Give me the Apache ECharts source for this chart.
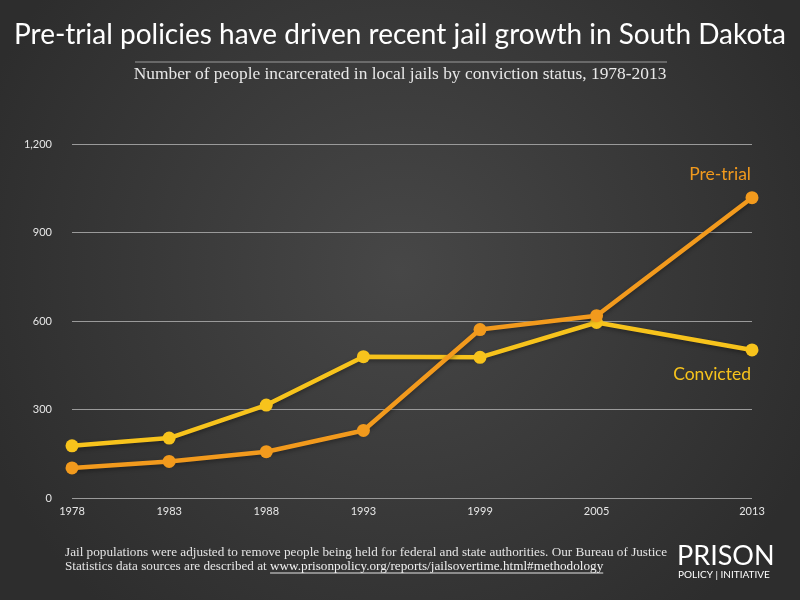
<!doctype html>
<html lang="en">
<head>
    <title>South Dakota jail growth</title>
    <meta charset="utf-8">
    <script type="text/javascript" src="https://cdn.jsdelivr.net/npm/echarts@6/dist/echarts.min.js"></script>
    <style>
        html, body { margin: 0; padding: 0; background: #3a3a3a; }
        #main { width: 800px; height: 600px; }
    </style>
</head>
<body>
<div id="main"></div>
<script type="text/javascript">
    // data
    var years = [1978, 1983, 1988, 1993, 1999, 2005, 2013];
    var pretrial = [102, 124, 157, 229, 571, 618, 1018];
    var convicted = [177, 203, 315, 479, 477, 595, 502];
    var yTicks = [0, 300, 600, 900, 1200];

    var FUTURA = 'Lato, "Open Sans", sans-serif';
    var SERIF = '"Liberation Serif", "DejaVu Serif", serif';
    var ORANGE = '#f29a1d';
    var YELLOW = '#f7c31c';

    var noteFont = '13.2px ' + SERIF;
    var noteLine2 = 'Statistics data sources are described at ';
    var noteUrl = 'www.prisonpolicy.org/reports/jailsovertime.html#methodology';

    // measure the footnote so the url + underline line up
    var ctx = document.createElement('canvas').getContext('2d');
    ctx.font = noteFont;
    var urlX = 65 + ctx.measureText(noteLine2).width;
    var urlW = ctx.measureText(noteUrl).width;

    function pairs(vals) {
        return years.map(function (y, i) { return [y, vals[i]]; });
    }

    // label only on the last point, like the reference
    function withEndLabel(vals, text, color, pos) {
        var d = pairs(vals);
        var last = d.length - 1;
        d[last] = {
            value: d[last],
            label: {
                show: true,
                formatter: text,
                position: pos,
                align: 'right',
                distance: pos === 'top' ? 8 : 9,
                offset: [-1, 0],
                color: color,
                fontFamily: FUTURA,
                fontSize: 17.5
            }
        };
        return d;
    }

    var chartDom = document.getElementById('main');
    var myChart = echarts.init(chartDom);
    var option = {
        backgroundColor: {
            type: 'radial', x: 0.5, y: 0.45, r: 0.75,
            colorStops: [
                {offset: 0, color: '#474747'},
                {offset: 1, color: '#2d2d2d'}
            ]
        },
        animation: false,
        grid: {left: 72, right: 48, top: 144, bottom: 102},
        xAxis: {
            type: 'value',
            min: 1978,
            max: 2013,
            axisLine: {show: false},
            axisTick: {show: false},
            splitLine: {show: false},
            axisLabel: {
                customValues: years,
                color: '#e6e6e6',
                fontFamily: FUTURA,
                fontSize: 11,
                margin: 8,
                formatter: function (v) { return String(v); }
            }
        },
        yAxis: {
            type: 'value',
            min: 0,
            max: 1200,
            interval: 300,
            axisLine: {show: false},
            axisTick: {show: false},
            splitLine: {lineStyle: {color: '#9a9a9a', width: 1}},
            axisLabel: {
                customValues: yTicks,
                color: '#e6e6e6',
                fontFamily: FUTURA,
                fontSize: 11,
                margin: 20,
                padding: [0, 0, 6, 0],
                formatter: function (v) { return v.toLocaleString('en-US'); }
            }
        },
        series: [
            {
                name: 'Convicted',
                type: 'line',
                data: withEndLabel(convicted, 'Convicted', YELLOW, 'bottom'),
                symbol: 'circle',
                symbolSize: 13,
                z: 2,
                itemStyle: {color: YELLOW},
                lineStyle: {
                    color: YELLOW, width: 4.5,
                    shadowColor: 'rgba(0,0,0,0.35)', shadowBlur: 4, shadowOffsetY: 2
                }
            },
            {
                name: 'Pre-trial',
                type: 'line',
                data: withEndLabel(pretrial, 'Pre-trial', ORANGE, 'top'),
                symbol: 'circle',
                symbolSize: 13,
                z: 3,
                itemStyle: {color: ORANGE},
                lineStyle: {
                    color: ORANGE, width: 4.5,
                    shadowColor: 'rgba(0,0,0,0.35)', shadowBlur: 4, shadowOffsetY: 2
                }
            }
        ],
        graphic: [
            {
                type: 'text', left: 'center', top: 21,
                style: {
                    text: 'Pre-trial policies have driven recent jail growth in South Dakota',
                    fill: '#ffffff', font: '28px ' + FUTURA
                }
            },
            {
                type: 'line', z: 10,
                shape: {x1: 135, y1: 62, x2: 667, y2: 62},
                style: {stroke: '#9c9c9c', lineWidth: 1}
            },
            {
                type: 'text', left: 'center', top: 66,
                style: {
                    text: 'Number of people incarcerated in local jails by conviction status, 1978-2013',
                    fill: '#e8e8e8', font: '17.4px ' + SERIF
                }
            },
            {
                type: 'text', left: 65, top: 546,
                style: {
                    text: 'Jail populations were adjusted to remove people being held for federal and state authorities. Our Bureau of Justice\n' + noteLine2,
                    fill: '#e4e4e4', font: noteFont, lineHeight: 14
                }
            },
            {
                type: 'text', left: urlX, top: 560,
                style: {
                    text: noteUrl,
                    fill: '#f2f2f2', font: noteFont, lineHeight: 14
                }
            },
            {
                type: 'line',
                shape: {x1: urlX, y1: 573, x2: urlX + urlW, y2: 573},
                style: {stroke: '#e4e4e4', lineWidth: 1}
            },
            {
                type: 'text', left: 677, top: 543,
                style: {
                    text: 'PRISON',
                    fill: '#ffffff', font: '27px ' + FUTURA
                }
            },
            {
                type: 'text', left: 678, top: 570,
                style: {
                    text: 'POLICY | INITIATIVE',
                    fill: '#ffffff', font: '10px ' + FUTURA
                }
            }
        ]
    };

    option && myChart.setOption(option);
</script>
</body>
</html>
